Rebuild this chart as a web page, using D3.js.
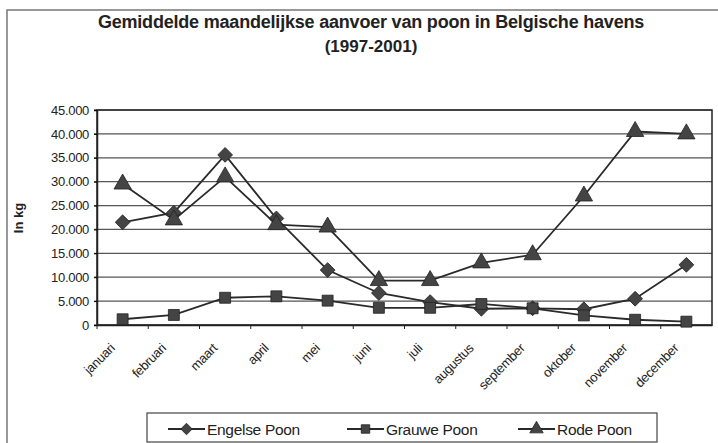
<!DOCTYPE html>
<html>
<head>
<meta charset="utf-8">
<script src="https://cdn.jsdelivr.net/npm/d3@7"></script>
<style>
  body { margin:0; background:#fff; }
  svg text { font-family: "Liberation Sans", Arial, sans-serif; fill:#222; }
</style>
</head>
<body>
<div class="canvas"></div>
<script>
// data (kg)
var months = ["januari","februari","maart","april","mei","juni","juli","augustus","september","oktober","november","december"];
var engelse = [21500,23500,35600,22300,11500,6700,4800,3400,3500,3300,5500,12600];
var grauwe  = [1200,2100,5700,6000,5100,3600,3600,4400,3500,2000,1100,700];
var rode    = [29500,22000,31000,21000,20500,9300,9300,13000,14700,27000,40500,40000];
var yTicks  = [0,5000,10000,15000,20000,25000,30000,35000,40000,45000];

var series = [
    {name:"Engelse Poon", values:engelse, shape:d3.symbolDiamond2 || d3.symbolDiamond, size:140},
    {name:"Grauwe Poon", values:grauwe, shape:d3.symbolSquare, size:120},
    {name:"Rode Poon", values:rode, shape:d3.symbolTriangle, size:130}
];

var W = 718, H = 443;
var margin = {t:110,r:6,b:118,l:97};
var width = W - margin.l - margin.r,
    height = H - margin.t - margin.b;

var svg = d3.select('.canvas')
    .append('svg')
    .attr('width',W)
    .attr('height',H);

// outer chart border
svg.append('rect')
    .attr('x',7).attr('y',10)
    .attr('width',W-7+5).attr('height',H)
    .style('fill','none').style('stroke','#777').style('stroke-width',1.5);

// titles
svg.append('text').attr('x',371).attr('y',28)
    .attr('text-anchor','middle').style('font-size','18px').style('font-weight','bold')
    .style('letter-spacing','-0.2px')
    .text('Gemiddelde maandelijkse aanvoer van poon in Belgische havens');
svg.append('text').attr('x',371).attr('y',52)
    .attr('text-anchor','middle').style('font-size','17px').style('font-weight','bold')
    .text('(1997-2001)');

var plot = svg.append('g')
    .attr('transform','translate('+margin.l+','+margin.t+')');

var x = d3.scaleBand().domain(months).range([0,width]);
var y = d3.scaleLinear().domain([0,45000]).range([height,0]);

// gridlines
plot.selectAll('.grid')
    .data(yTicks)
    .enter()
    .append('line')
    .attr('x1',-3).attr('x2',width)
    .attr('y1',function(d){ return y(d); })
    .attr('y2',function(d){ return y(d); })
    .style('stroke','#555').style('stroke-width',1.2);

// plot frame
plot.append('rect')
    .attr('width',width).attr('height',height)
    .style('fill','none').style('stroke','#222').style('stroke-width',1.5);

// y axis labels
var fmt = d3.format(',');
var yAxis = d3.axisLeft(y).tickValues(yTicks).tickSize(3)
    .tickFormat(function(d){ return fmt(d).replace(/,/g,'.'); });
var gy = plot.append('g').call(yAxis);
gy.select('.domain').style('stroke','#222').style('stroke-width',1.5);
gy.selectAll('text').style('font-size','13px').attr('dx','-2').style('letter-spacing','-0.3px');

// x axis with ticks on category boundaries
var gx = plot.append('g').attr('transform','translate(0,'+height+')')
    .call(d3.axisBottom(x).tickSize(0));
gx.select('.domain').style('stroke','#222').style('stroke-width',1.5);
gx.selectAll('text')
    .style('font-size','13px')
    .style('letter-spacing','-0.3px')
    .attr('text-anchor','end')
    .attr('y',0).attr('dy',0)
    .attr('transform','translate(-7,24) rotate(-45)');
gx.selectAll('.bound')
    .data(months)
    .enter()
    .append('line')
    .attr('x1',function(d){ return x(d); })
    .attr('x2',function(d){ return x(d); })
    .attr('y1',0).attr('y2',4)
    .style('stroke','#222');

svg.append('text')
    .attr('transform','translate(23,218) rotate(-90)')
    .attr('text-anchor','middle')
    .style('font-size','13px').style('font-weight','bold')
    .text('In kg');

// lines and markers
var line = d3.line()
    .x(function(d,i){ return x(months[i]) + x.bandwidth()/2; })
    .y(function(d){ return y(d); });

series.forEach(function(s){
    plot.append('path')
        .datum(s.values)
        .attr('d',line)
        .style('fill','none').style('stroke','#2a2a2a').style('stroke-width',1.8);
    plot.selectAll('.m')
        .data(s.values)
        .enter()
        .append('path')
        .attr('d',d3.symbol().type(s.shape).size(s.size))
        .attr('transform',function(d,i){ return 'translate('+(x(months[i])+x.bandwidth()/2)+','+y(d)+')'; })
        .style('fill','#444').style('stroke','#222').style('stroke-width',0.8);
});

// legend
var legend = svg.append('g');
legend.append('rect')
    .attr('x',147).attr('y',413).attr('width',510).attr('height',29)
    .style('fill','#fff').style('stroke','#444').style('stroke-width',1.2);
var legX = [168,347,518];
series.forEach(function(s,i){
    var g = legend.append('g').attr('transform','translate('+legX[i]+',429)');
    g.append('line').attr('x1',0).attr('x2',37)
        .style('stroke','#2a2a2a').style('stroke-width',1.8);
    g.append('path').attr('d',d3.symbol().type(s.shape).size(s.size*0.6))
        .attr('transform','translate(18.5,0)')
        .style('fill','#444').style('stroke','#222').style('stroke-width',0.8);
    g.append('text').attr('x',39).attr('y',5.5)
        .style('font-size','15.5px')
        .style('letter-spacing','-0.3px')
        .text(s.name);
});
</script>
</body>
</html>
